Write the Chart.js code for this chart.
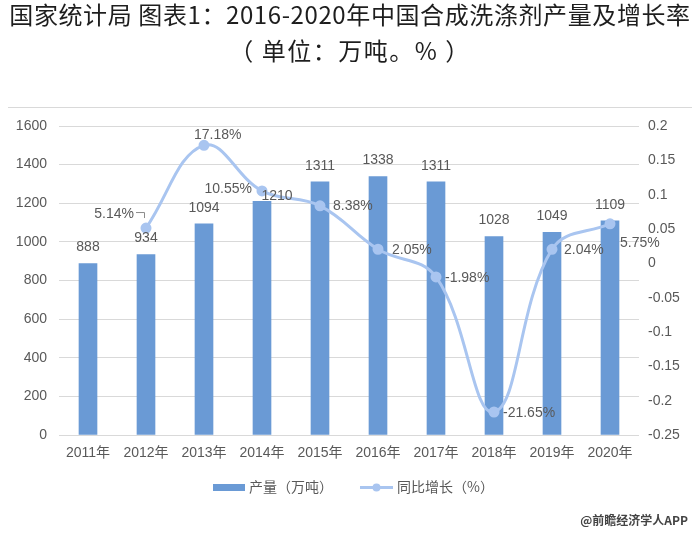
<!DOCTYPE html>
<html><head><meta charset="utf-8">
<script src="https://cdn.jsdelivr.net/npm/chart.js@4/dist/chart.umd.min.js"></script>
<style>html,body{margin:0;padding:0;background:#fff}#wrap{width:700px;height:536px;position:relative}</style>
</head><body><div id="wrap"><canvas id="c" width="700" height="536"></canvas></div>
<script>
const categories = ['2011年','2012年','2013年','2014年','2015年','2016年','2017年','2018年','2019年','2020年'];
const output = [888, 934, 1094, 1210, 1311, 1338, 1311, 1028, 1049, 1109];
const growth = [null, 0.0514, 0.1718, 0.1055, 0.0838, 0.0205, -0.0198, -0.2165, 0.0204, 0.0575];
const leftTicks = {min: 0, max: 1600, step: 200};
const rightTicks = {min: -0.25, max: 0.2, step: 0.05};
const titleLines = ['国家统计局 图表1：2016-2020年中国合成洗涤剂产量及增长率', '（ 单位：万吨。% ）'];
const seriesNames = ['产量（万吨）', '同比增长（%）'];
const sourceText = '@前瞻经济学人APP';

const BAR_COLOR = '#6a9ad5';
const LINE_COLOR = '#a9c5f0';
const TEXT = '#595959';
const NUM_FONT = '14px "Liberation Sans", "Noto Sans CJK SC", sans-serif';
const CJK_FONT = '"Noto Sans CJK SC", sans-serif';

// label placement (styles only)
const barLabelShift = [[0,0],[0,0],[0,0],[15,11],[0,0],[0,0],[0,0],[0,0],[0,0],[0,0]];
const lineLabelPlace = [null,
  {align:'right', dx:-12, dy:-14},
  {align:'left', dx:-10, dy:-10},
  {align:'right', dx:-10, dy:-2},
  {align:'left', dx:13, dy:0},
  {align:'left', dx:14, dy:1},
  {align:'left', dx:9, dy:1},
  {align:'left', dx:9, dy:1},
  {align:'left', dx:12, dy:1},
  {align:'left', dx:10, dy:19}];

const decor = {
  id: 'decor',
  afterDraw(chart) {
    const ctx = chart.ctx;
    ctx.save();
    // title
    ctx.fillStyle = '#1e1e1e';
    ctx.textAlign = 'center';
    ctx.textBaseline = 'middle';
    ctx.font = '24px ' + CJK_FONT;
    try { ctx.letterSpacing = '0.6px'; } catch (e) {}
    ctx.fillText(titleLines[0], 350, 15);
    try { ctx.letterSpacing = '1.5px'; } catch (e) {}
    ctx.fillText(titleLines[1], 350, 51);
    try { ctx.letterSpacing = '0px'; } catch (e) {}
    // separator
    ctx.strokeStyle = '#d9d9d9';
    ctx.lineWidth = 1;
    ctx.beginPath(); ctx.moveTo(8, 107.5); ctx.lineTo(692, 107.5); ctx.stroke();

    // bar labels
    const bm = chart.getDatasetMeta(0);
    ctx.font = NUM_FONT;
    ctx.fillStyle = TEXT;
    ctx.textAlign = 'center';
    bm.data.forEach((el, i) => {
      const s = barLabelShift[i];
      ctx.fillText(String(output[i]), el.x + s[0], el.y - 16 + s[1]);
    });
    // line labels
    const lm = chart.getDatasetMeta(1);
    lm.data.forEach((el, i) => {
      const p = lineLabelPlace[i];
      if (!p || growth[i] == null) return;
      ctx.textAlign = p.align;
      ctx.fillText((growth[i] * 100).toFixed(2) + '%', el.x + p.dx, el.y + p.dy);
      if (i === 1) {
        ctx.strokeStyle = '#8c8c8c';
        ctx.lineWidth = 1;
        ctx.beginPath();
        ctx.moveTo(el.x - 10, el.y - 15.5);
        ctx.lineTo(el.x - 1.5, el.y - 15.5);
        ctx.lineTo(el.x - 1.5, el.y - 10);
        ctx.stroke();
      }
    });

    // legend
    ctx.fillStyle = BAR_COLOR;
    ctx.fillRect(213, 484, 32, 7);
    ctx.font = '14px ' + CJK_FONT;
    ctx.fillStyle = TEXT;
    ctx.textAlign = 'left';
    ctx.fillText(seriesNames[0], 249, 487);
    ctx.strokeStyle = LINE_COLOR;
    ctx.lineWidth = 3;
    ctx.beginPath(); ctx.moveTo(360, 487.5); ctx.lineTo(393, 487.5); ctx.stroke();
    ctx.fillStyle = LINE_COLOR;
    ctx.beginPath(); ctx.arc(376.5, 487.5, 4, 0, Math.PI * 2); ctx.fill();
    ctx.fillStyle = TEXT;
    ctx.fillText(seriesNames[1], 397, 487);

    // source
    ctx.font = 'bold 12px ' + CJK_FONT;
    ctx.fillStyle = '#444';
    ctx.textAlign = 'right';
    ctx.fillText(sourceText, 688, 520);
    ctx.restore();
  }
};

new Chart(document.getElementById('c'), {
  data: {
    labels: categories,
    datasets: [
      {type: 'bar', label: seriesNames[0], data: output, backgroundColor: BAR_COLOR,
       barThickness: 18, yAxisID: 'y', order: 1},
      {type: 'line', label: seriesNames[1], data: growth, yAxisID: 'y1', order: 0,
       borderColor: LINE_COLOR, backgroundColor: LINE_COLOR, borderWidth: 3,
       pointRadius: 4, pointBackgroundColor: LINE_COLOR, pointBorderColor: LINE_COLOR,
       tension: 0.4, spanGaps: true}
    ]
  },
  options: {
    responsive: false, animation: false, devicePixelRatio: 1,
    layout: {padding: {left: 0, right: 0, top: 126, bottom: 71}},
    plugins: {legend: {display: false}, title: {display: false}, tooltip: {enabled: false}},
    scales: {
      x: {
        grid: {display: false, drawTicks: false}, border: {display: false},
        ticks: {font: {size: 14, family: '"Liberation Sans", "Noto Sans CJK SC", sans-serif'}, color: TEXT, padding: 10, maxRotation: 0, autoSkip: false},
        afterFit(s) { s.height = 30; }
      },
      y: {
        position: 'left', min: leftTicks.min, max: leftTicks.max,
        grid: {color: '#d9d9d9', drawTicks: false}, border: {display: false},
        ticks: {stepSize: leftTicks.step, font: {size: 14, family: '"Liberation Sans", sans-serif'}, color: TEXT, padding: 12,
          callback: v => String(v)},
        afterFit(s) { s.width = 59; }
      },
      y1: {
        position: 'right', min: rightTicks.min, max: rightTicks.max,
        grid: {display: false, drawTicks: false}, border: {display: false},
        ticks: {stepSize: rightTicks.step, font: {size: 14, family: '"Liberation Sans", sans-serif'}, color: TEXT, padding: 9,
          callback: v => String(Number(Number(v).toFixed(2)))},
        afterFit(s) { s.width = 61; }
      }
    }
  },
  plugins: [decor]
});
</script>
</body></html>
